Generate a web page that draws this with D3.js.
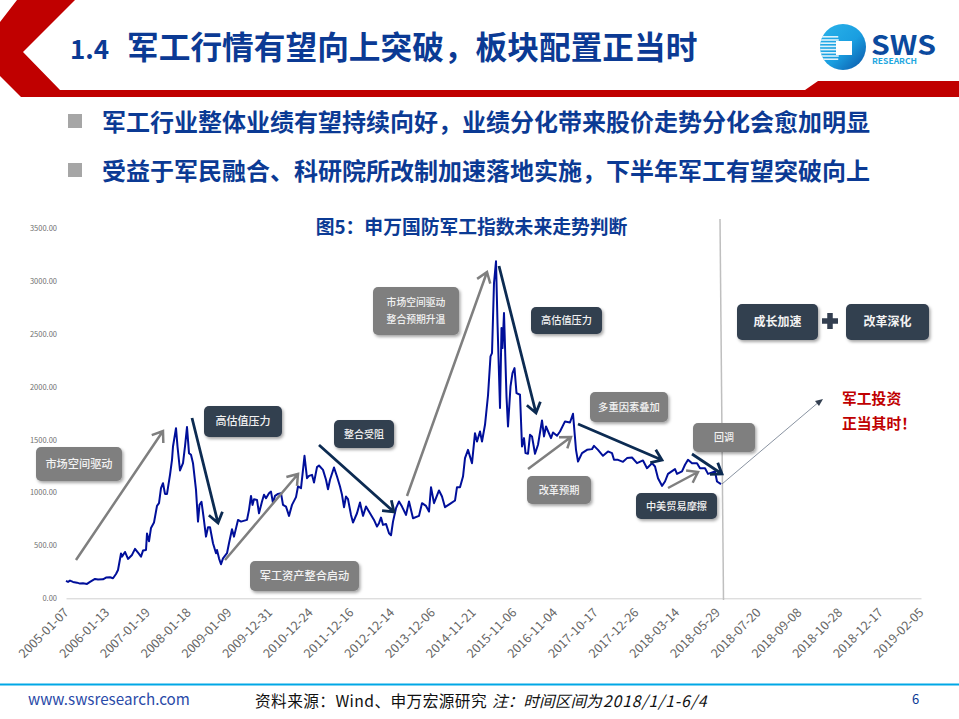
<!DOCTYPE html>
<html>
<head>
<meta charset="utf-8">
<script src="https://cdnjs.cloudflare.com/ajax/libs/d3/7.8.5/d3.min.js"></script>
<style>
  html, body { margin: 0; padding: 0; background: #fff; }
  svg { display: block; }
  text { font-family: "Noto Sans CJK SC", "Liberation Sans", sans-serif; }
</style>
</head>
<body>
<svg id="chart" width="959" height="719"></svg>
<script>
'use strict';

// full-width punctuation
var COMMA = '\uFF0C';
var COLON = '\uFF1A';
var BANG = '\uFF01';

var titleNumber = '1.4';
var titleText = '军工行情有望向上突破' + COMMA + '板块配置正当时';
var bulletTexts = [
  '军工行业整体业绩有望持续向好' + COMMA + '业绩分化带来股价走势分化会愈加明显',
  '受益于军民融合、科研院所改制加速落地实施' + COMMA + '下半年军工有望突破向上'
];
var chartTitle = '图5' + COLON + '申万国防军工指数未来走势判断';
var verdictLines = ['军工投资', '正当其时' + BANG];

var yTicks = [0, 500, 1000, 1500, 2000, 2500, 3000, 3500];
var xTickLabels = [
  '2005-01-07', '2006-01-13', '2007-01-19', '2008-01-18', '2009-01-09', '2009-12-31',
  '2010-12-24', '2011-12-16', '2012-12-14', '2013-12-06', '2014-11-21', '2015-11-06',
  '2016-11-04', '2017-10-17', '2017-12-26', '2018-03-14', '2018-05-29', '2018-07-20',
  '2018-09-08', '2018-10-28', '2018-12-17', '2019-02-05'
];

// position along the axis (last sample slot = 855) and index level
var sampleIndex = [
  0, 2, 4, 7, 11, 14, 17, 21, 24, 29, 32, 37, 40, 44, 47, 50, 52, 55, 56, 59,
  62, 66, 69, 73, 75, 77, 80, 81, 83, 85, 88, 91, 93, 95, 97, 99, 101, 104, 106, 107,
  110, 111.5, 114, 117, 119, 121, 123, 125, 127, 130, 132, 133.5, 135.5, 137.5, 140, 142, 144, 147, 150, 151,
  153, 155, 157, 161, 163, 166, 168, 172, 175, 181, 183, 185, 186.5, 188, 191, 193, 196, 198, 200, 203,
  205, 207, 209, 212, 215, 217, 220, 223, 226, 230, 232, 235, 237, 238.5, 241, 243, 246, 248, 251, 253,
  257, 260, 262, 264, 268, 271, 272.5, 274, 276, 278, 280, 282, 285, 287, 291, 294, 297, 300, 304, 308,
  311, 313, 315, 317, 320, 323, 325, 327, 330, 333, 336, 340, 343, 347, 353, 356, 360, 363, 365, 368,
  373, 376, 379, 384, 389, 391, 394, 397, 399, 402, 406, 409, 411, 414, 416, 419, 422, 424.5, 426, 428,
  430, 431.5, 434, 435.5, 436.5, 438, 440.5, 442, 444.5, 446.5, 448.5, 450.5, 454, 456, 458, 459.5, 462, 464, 466, 469,
  472, 476, 478, 480, 485, 487, 491, 494, 499, 504, 507, 510, 512, 516, 521, 526, 528, 532, 537, 542,
  546, 548, 552, 557, 561, 566, 571, 577, 581, 586, 589, 592, 596, 599, 602, 609, 611, 616, 619, 622,
  626, 631, 634, 639, 642, 649, 651, 655
];
var indexValues = [
  164, 155, 167, 155, 148, 139, 142, 136, 155, 183, 177, 180, 196, 199, 189, 230, 268, 423, 394, 438,
  372, 410, 467, 419, 394, 451, 457, 612, 539, 665, 716, 874, 899, 1041, 1088, 987, 987, 1167, 1309, 1435,
  1608, 1435, 1208, 1277, 1435, 1618, 1372, 1356, 1277, 1025, 725, 883, 912, 773, 583, 672, 672, 520, 426, 457,
  378, 322, 378, 426, 520, 653, 583, 741, 725, 741, 836, 968, 883, 937, 930, 804, 915, 978, 946, 993,
  1009, 899, 968, 987, 993, 883, 867, 779, 883, 956, 1057, 1041, 1214, 1347, 1135, 1157, 1167, 1094, 1240, 1255,
  1214, 1120, 1031, 1120, 1236, 1151, 1104, 1057, 978, 861, 962, 937, 788, 716, 804, 905, 779, 867, 804, 741,
  678, 710, 763, 694, 703, 615, 596, 725, 852, 915, 867, 788, 915, 757, 779, 899, 873, 820, 1050, 899,
  1019, 962, 861, 892, 924, 1050, 1050, 1151, 1325, 1403, 1277, 1561, 1482, 1577, 1482, 1640, 1917, 2287, 2318, 2980,
  3185, 2602, 1798, 2555, 2365, 2697, 1908, 1624, 2003, 2129, 2176, 1940, 1924, 1435, 1514, 1372, 1366, 1545, 1530, 1366,
  1451, 1681, 1530, 1624, 1514, 1567, 1536, 1577, 1672, 1662, 1744, 1403, 1293, 1372, 1403, 1410, 1441, 1403, 1347, 1388,
  1372, 1309, 1309, 1290, 1325, 1331, 1277, 1303, 1230, 1277, 1246, 1135, 1063, 1104, 1176, 1221, 1176, 1199, 1262, 1309,
  1277, 1277, 1230, 1230, 1176, 1199, 1104, 1079
];

// [text lines, fill type, left, top, right, bottom, font size]
var callouts = [
  [['市场空间驱动'], 'grey', 36, 447, 122, 481, 11.2],
  [['高估值压力'], 'dark', 204, 406, 282, 437, 11],
  [['整合受阻'], 'dark', 334, 420, 394, 448, 10],
  [['军工资产整合启动'], 'grey', 250, 561, 359, 591, 11.2],
  [['市场空间驱动', '整合预期升温'], 'grey', 373, 287, 459, 335, 9.8],
  [['高估值压力'], 'dark', 531, 307, 602, 334, 10.2],
  [['多重因素叠加'], 'grey', 590, 392, 668, 422, 10.3],
  [['改革预期'], 'grey', 527, 476, 591, 504, 10.2],
  [['回调'], 'grey', 693, 423, 755, 452, 10],
  [['中美贸易摩擦'], 'dark', 636, 493, 717, 519, 10.2],
  [['成长加速'], 'dark', 737, 304, 818, 340, 12],
  [['改革深化'], 'dark', 846, 304, 929, 340, 12]
];

// [type, x1, y1, x2, y2]
var trendArrows = [
  ['grey', 76, 560, 163, 431],
  ['dark', 192, 418, 218, 523],
  ['grey', 225, 560, 298, 474],
  ['dark', 319, 445, 394, 512],
  ['grey', 407, 496, 487, 272],
  ['dark', 499, 266, 536, 413],
  ['grey', 528, 469, 571, 437],
  ['dark', 578, 424, 662, 460],
  ['grey', 668, 488, 698, 472],
  ['dark', 692, 454, 722, 474]
];

var colors = { grey: '#7f7f7f', dark: '#333f50', navy: '#0c2b52', blue: '#0b3a94', line: '#000f9a', red: '#c00000' };

var svg = d3.select('#chart');
var defs = svg.append('defs');

var shadow = defs.append('filter').attr('id', 'shadow')
  .attr('x', '-20%').attr('y', '-20%').attr('width', '140%').attr('height', '150%');
shadow.append('feDropShadow')
  .attr('dx', 1.5).attr('dy', 2).attr('stdDeviation', 1.5)
  .attr('flood-color', '#000').attr('flood-opacity', 0.35);

var logoFill = defs.append('linearGradient').attr('id', 'logoFill')
  .attr('x1', 0).attr('x2', 1).attr('y1', 0).attr('y2', 1);
logoFill.append('stop').attr('offset', '0%').attr('stop-color', '#2bb3ea');
logoFill.append('stop').attr('offset', '55%').attr('stop-color', '#1a9ee0');
logoFill.append('stop').attr('offset', '100%').attr('stop-color', '#0a52a5');

defs.append('clipPath').attr('id', 'logoClip')
  .append('circle').attr('cx', 843).attr('cy', 47).attr('r', 23);

// header band
svg.append('path')
  .attr('d', 'M17,0 L75,0 L23,52 L60,90 L805,90 L818,81 L959,81 L959,97 L21,97 L0,76 L0,22 Z')
  .attr('fill', colors.red);

svg.append('text')
  .attr('x', 70).attr('y', 59)
  .attr('font-family', '"DejaVu Serif", serif')
  .attr('font-size', 26).attr('font-weight', 700)
  .attr('fill', colors.blue)
  .text(titleNumber);
svg.append('text')
  .attr('x', 127).attr('y', 59)
  .attr('font-size', 31.7).attr('font-weight', 700)
  .attr('fill', colors.blue)
  .text(titleText);

// logo
var logo = svg.append('g');
logo.append('circle').attr('cx', 843).attr('cy', 47).attr('r', 23).attr('fill', 'url(#logoFill)');
logo.append('g').attr('clip-path', 'url(#logoClip)')
  .selectAll('rect')
  .data(d3.range(8))
  .enter().append('rect')
  .attr('x', 820)
  .attr('y', function(d){ return 36 + d * 3.2; })
  .attr('width', function(d){ return 20 - Math.abs(d - 3.5) * 0.5; })
  .attr('height', 1.6)
  .attr('fill', '#fff')
  .attr('opacity', 0.85);
logo.append('rect').attr('x', 836).attr('y', 41).attr('width', 16).attr('height', 14).attr('fill', '#fff');
logo.append('text')
  .attr('x', 871).attr('y', 55)
  .attr('font-family', '"Liberation Sans", sans-serif')
  .attr('font-size', 27).attr('font-weight', 700)
  .attr('textLength', 65).attr('lengthAdjust', 'spacingAndGlyphs')
  .attr('fill', '#0b4a9e')
  .text('SWS');
logo.append('text')
  .attr('x', 872).attr('y', 63.5)
  .attr('font-family', '"Liberation Sans", sans-serif')
  .attr('font-size', 8).attr('font-weight', 700)
  .attr('textLength', 45).attr('lengthAdjust', 'spacingAndGlyphs')
  .attr('fill', '#1ea7e0')
  .text('RESEARCH');

// bullets
var bullets = svg.selectAll('.bullet')
  .data(bulletTexts)
  .enter().append('g')
  .attr('class', 'bullet')
  .attr('transform', function(d, i){ return 'translate(0,' + (i * 49) + ')'; });
bullets.append('rect')
  .attr('x', 68).attr('y', 114).attr('width', 14).attr('height', 14)
  .attr('fill', '#a6a6a6');
bullets.append('text')
  .attr('x', 102).attr('y', 131)
  .attr('font-size', 24).attr('font-weight', 700)
  .attr('fill', colors.blue)
  .text(function(d){ return d; });

svg.append('text')
  .attr('x', 471.5).attr('y', 234)
  .attr('text-anchor', 'middle')
  .attr('font-size', 18.8).attr('font-weight', 700)
  .attr('fill', colors.blue)
  .text(chartTitle);

// scales and axes
var x = d3.scaleLinear().domain([0, 855]).range([66, 921]);
var xTicks = d3.scalePoint().domain(xTickLabels).range([66, 921]);
var y = d3.scaleLinear().domain([0, 3500]).range([598.3, 228]);

var yAxis = svg.append('g')
  .attr('transform', 'translate(62,0)')
  .call(d3.axisLeft(y).tickValues(yTicks).tickFormat(d3.format('.2f')).tickSize(0).tickPadding(5));
yAxis.select('.domain').remove();
yAxis.selectAll('text')
  .attr('font-family', '"Liberation Sans", sans-serif')
  .attr('font-size', 7.5)
  .attr('fill', '#6f6f6f');

var xAxis = svg.append('g')
  .attr('transform', 'translate(0,598.3)')
  .call(d3.axisBottom(xTicks).tickSize(0).tickPadding(0));
xAxis.select('.domain').attr('stroke', '#d0d0d0');
xAxis.selectAll('text')
  .attr('font-family', '"Liberation Sans", sans-serif')
  .attr('font-size', 12.5)
  .attr('fill', '#666')
  .attr('text-anchor', 'end')
  .attr('dx', 0).attr('dy', 0).attr('y', 0)
  .attr('transform', 'translate(3,15) rotate(-45)');

// separator between history and outlook
svg.append('line')
  .attr('x1', 720).attr('y1', 219).attr('x2', 723.5).attr('y2', 600)
  .attr('stroke', '#bfbfbf').attr('stroke-width', 1.5);

var line = d3.line()
  .x(function(d){ return x(d); })
  .y(function(d, i){ return y(indexValues[i]); });

svg.append('path')
  .datum(sampleIndex)
  .attr('fill', 'none')
  .attr('stroke', colors.line)
  .attr('stroke-width', 2)
  .attr('stroke-linejoin', 'round')
  .attr('d', line);

// trend arrows
function arrowPath(d){
  var angle = Math.atan2(d[4] - d[2], d[3] - d[1]);
  var size = 12;
  var spread = 0.62;
  var a1 = [d[3] - size * Math.cos(angle - spread), d[4] - size * Math.sin(angle - spread)];
  var a2 = [d[3] - size * Math.cos(angle + spread), d[4] - size * Math.sin(angle + spread)];
  return 'M' + d[1] + ',' + d[2] + 'L' + d[3] + ',' + d[4] +
    'M' + a1[0] + ',' + a1[1] + 'L' + d[3] + ',' + d[4] + 'L' + a2[0] + ',' + a2[1];
}

svg.selectAll('.trend')
  .data(trendArrows)
  .enter().append('path')
  .attr('class', 'trend')
  .attr('fill', 'none')
  .attr('stroke', function(d){ return d[0] === 'grey' ? colors.grey : colors.navy; })
  .attr('stroke-width', function(d){ return d[0] === 'grey' ? 2.5 : 2.8; })
  .attr('d', arrowPath);

// thin outlook arrow
svg.append('line')
  .attr('x1', 722).attr('y1', 484).attr('x2', 820).attr('y2', 401)
  .attr('stroke', '#6b7789').attr('stroke-width', 0.8);
svg.append('path')
  .attr('d', 'M823,399 L815,401 L819,406 Z')
  .attr('fill', colors.dark);

// callouts
var boxes = svg.selectAll('.callout')
  .data(callouts)
  .enter().append('g')
  .attr('class', 'callout');
boxes.append('rect')
  .attr('x', function(d){ return d[2]; })
  .attr('y', function(d){ return d[3]; })
  .attr('width', function(d){ return d[4] - d[2]; })
  .attr('height', function(d){ return d[5] - d[3]; })
  .attr('rx', 5)
  .attr('fill', function(d){ return colors[d[1]]; })
  .attr('filter', 'url(#shadow)');
boxes.each(function(d){
  var midX = (d[2] + d[4]) / 2;
  var midY = (d[3] + d[5]) / 2;
  d3.select(this).selectAll('text')
    .data(d[0])
    .enter().append('text')
    .attr('x', midX)
    .attr('y', function(t, i){ return midY + (i - (d[0].length - 1) / 2) * 17.7; })
    .attr('dy', '0.36em')
    .attr('text-anchor', 'middle')
    .attr('font-size', d[6])
    .attr('font-weight', d[6] >= 12 ? 700 : 500)
    .attr('fill', '#f2f2f2')
    .text(function(t){ return t; });
});

// plus sign between the two outlook boxes
svg.append('path')
  .attr('d', 'M830,313 L830,329 M822,321 L838,321')
  .attr('stroke', colors.dark)
  .attr('stroke-width', 5.5);

svg.selectAll('.verdict')
  .data(verdictLines)
  .enter().append('text')
  .attr('class', 'verdict')
  .attr('x', 842)
  .attr('y', function(d, i){ return 403.5 + i * 25; })
  .attr('font-size', 14.8).attr('font-weight', 700)
  .attr('fill', colors.red)
  .text(function(d){ return d; });

// footer
svg.append('rect')
  .attr('x', 0).attr('y', 683.5).attr('width', 959).attr('height', 2)
  .attr('fill', '#00a7e6');
svg.append('text')
  .attr('x', 28).attr('y', 705)
  .attr('font-family', '"Liberation Sans", sans-serif')
  .attr('font-size', 15.2)
  .attr('fill', '#2a4aa8')
  .text('www.swsresearch.com');
var source = svg.append('text')
  .attr('y', 706.5)
  .attr('font-size', 15.7)
  .attr('fill', '#111');
source.append('tspan').attr('x', 255).attr('letter-spacing', 0.4).text('资料来源' + COLON + 'Wind、申万宏源研究');
source.append('tspan').attr('x', 492).attr('font-style', 'italic').text('注' + COLON + '时间区间为');
source.append('tspan').attr('x', 603).attr('font-style', 'italic').attr('letter-spacing', 0.9).text('2018/1/1-6/4');
svg.append('text')
  .attr('x', 912).attr('y', 704)
  .attr('font-family', '"Liberation Sans", sans-serif')
  .attr('font-size', 13)
  .attr('fill', colors.blue)
  .text('6');
</script>
</body>
</html>
